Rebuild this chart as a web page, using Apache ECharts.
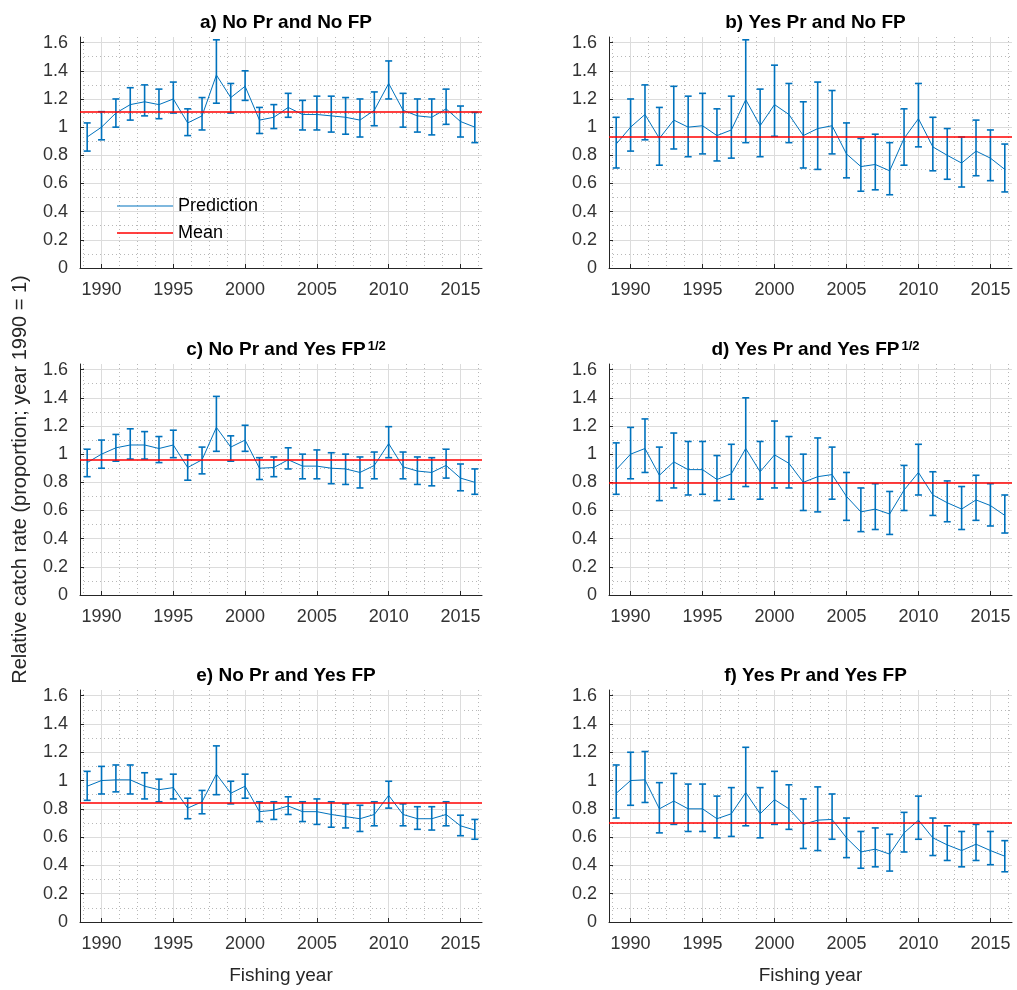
<!DOCTYPE html>
<html>
<head>
<meta charset="utf-8">
<script src="https://cdn.jsdelivr.net/npm/echarts@6/dist/echarts.min.js"></script>
<style>
html,body{margin:0;padding:0;background:#fff;}
#chart{width:1017px;height:990px;}
</style>
</head>
<body>
<div id="chart"></div>
<script>
const years = [1989,1990,1991,1992,1993,1994,1995,1996,1997,1998,1999,2000,2001,2002,2003,2004,2005,2006,2007,2008,2009,2010,2011,2012,2013,2014,2015,2016];

const titles = [
  'a) No Pr and No FP',
  'b) Yes Pr and No FP',
  'c) No Pr and Yes FP',
  'd) Yes Pr and Yes FP',
  'e) No Pr and Yes FP',
  'f) Yes Pr and Yes FP'
];
const titleSup = ['', '', '1/2', '1/2', '', ''];

const predA = [0.93,1.00,1.10,1.16,1.18,1.16,1.20,1.03,1.08,1.37,1.21,1.29,1.05,1.07,1.14,1.09,1.09,1.08,1.07,1.05,1.12,1.31,1.12,1.08,1.07,1.13,1.04,1.00];
const lowA  = [0.83,0.91,1.00,1.05,1.08,1.06,1.10,0.94,0.98,1.17,1.10,1.19,0.955,0.99,1.07,0.98,0.98,0.965,0.95,0.93,1.01,1.20,1.00,0.965,0.945,1.02,0.93,0.89];
const highA = [1.03,1.11,1.20,1.28,1.30,1.27,1.32,1.13,1.21,1.62,1.31,1.40,1.14,1.16,1.24,1.19,1.22,1.22,1.21,1.20,1.25,1.47,1.24,1.20,1.20,1.27,1.15,1.105];
const meanA = 1.11;

const predB = [0.88,1.00,1.09,0.92,1.05,1.00,1.01,0.94,0.98,1.195,1.01,1.16,1.09,0.94,0.99,1.01,0.81,0.72,0.735,0.69,0.92,1.06,0.86,0.80,0.745,0.83,0.78,0.70];
const lowB  = [0.71,0.83,0.91,0.73,0.845,0.79,0.81,0.76,0.78,0.89,0.79,0.935,0.89,0.71,0.70,0.81,0.64,0.545,0.555,0.52,0.73,0.86,0.69,0.63,0.575,0.655,0.62,0.54];
const highB = [1.07,1.20,1.30,1.14,1.29,1.22,1.24,1.13,1.22,1.62,1.27,1.44,1.31,1.18,1.32,1.26,1.03,0.92,0.95,0.89,1.13,1.31,1.07,0.99,0.93,1.05,0.98,0.88];
const meanB = 0.925;

const predC = [0.94,1.00,1.045,1.065,1.065,1.04,1.065,0.905,0.96,1.19,1.05,1.10,0.90,0.905,0.96,0.915,0.915,0.90,0.895,0.87,0.92,1.075,0.91,0.88,0.87,0.92,0.83,0.80];
const lowC  = [0.84,0.90,0.95,0.965,0.965,0.94,0.975,0.815,0.86,1.02,0.95,1.02,0.82,0.84,0.895,0.825,0.825,0.79,0.785,0.76,0.825,0.975,0.825,0.785,0.775,0.83,0.74,0.715];
const highC = [1.035,1.10,1.14,1.18,1.16,1.125,1.17,0.995,1.05,1.41,1.13,1.205,0.975,0.98,1.045,1.00,1.03,1.01,1.00,0.98,1.015,1.195,1.015,0.98,0.975,1.035,0.93,0.895];
const meanC = 0.96;

const predD = [0.89,1.00,1.04,0.85,0.945,0.89,0.89,0.82,0.86,1.04,0.875,0.995,0.935,0.80,0.84,0.855,0.70,0.59,0.61,0.575,0.745,0.87,0.71,0.655,0.61,0.675,0.635,0.565];
const lowD  = [0.715,0.825,0.87,0.67,0.76,0.71,0.715,0.67,0.68,0.77,0.68,0.76,0.76,0.60,0.59,0.68,0.53,0.45,0.465,0.43,0.60,0.71,0.565,0.52,0.465,0.53,0.49,0.44];
const highD = [1.08,1.19,1.25,1.05,1.15,1.09,1.09,0.99,1.07,1.40,1.09,1.235,1.125,1.00,1.115,1.05,0.87,0.76,0.79,0.735,0.92,1.07,0.875,0.81,0.77,0.85,0.79,0.71];
const meanD = 0.80;

const predE = [0.96,1.00,1.005,1.005,0.96,0.935,0.95,0.805,0.85,1.045,0.91,0.96,0.78,0.79,0.82,0.78,0.78,0.76,0.745,0.73,0.76,0.895,0.76,0.73,0.73,0.76,0.68,0.65];
const lowE  = [0.86,0.905,0.92,0.905,0.87,0.85,0.87,0.73,0.765,0.90,0.835,0.875,0.71,0.725,0.76,0.71,0.69,0.67,0.665,0.64,0.68,0.805,0.68,0.655,0.65,0.68,0.61,0.585];
const highE = [1.065,1.10,1.11,1.11,1.055,1.01,1.045,0.875,0.93,1.245,0.995,1.045,0.85,0.85,0.885,0.85,0.87,0.85,0.835,0.825,0.85,0.995,0.835,0.815,0.815,0.85,0.755,0.725];
const meanE = 0.845;

const predF = [0.91,1.00,1.005,0.80,0.855,0.80,0.80,0.73,0.765,0.915,0.765,0.865,0.80,0.69,0.72,0.725,0.595,0.495,0.515,0.48,0.63,0.72,0.595,0.545,0.505,0.55,0.505,0.465];
const lowF  = [0.735,0.825,0.845,0.63,0.69,0.64,0.64,0.595,0.605,0.68,0.595,0.69,0.655,0.52,0.505,0.585,0.455,0.38,0.39,0.36,0.495,0.585,0.47,0.435,0.39,0.435,0.405,0.355];
const highF = [1.11,1.20,1.205,0.985,1.05,0.975,0.975,0.89,0.95,1.235,0.95,1.065,0.97,0.87,0.955,0.905,0.735,0.64,0.665,0.62,0.775,0.89,0.735,0.68,0.64,0.69,0.64,0.575];
const meanF = 0.70;

const yTickMax = 1.64;
const xMin = 1988.5, xMax = 2016.5;

const preds = [predA, predB, predC, predD, predE, predF];
const lows  = [lowA, lowB, lowC, lowD, lowE, lowF];
const highs = [highA, highB, highC, highD, highE, highF];
const means = [meanA, meanB, meanC, meanD, meanE, meanF];

const BLUE = '#0072BD';
const RED = '#FF0000';
const AXIS = '#262626';
const FONT = 'Liberation Sans, Arial, Helvetica, sans-serif';

const lefts = [80, 609];
const widths = [402, 403];
const tops = [37, 364, 690];
const heights = [231, 231, 232];

const grids = [], xAxes = [], yAxes = [], series = [], titleComps = [];

for (let i = 0; i < 6; i++) {
  const col = i % 2, row = Math.floor(i / 2);
  grids.push({left: lefts[col], top: tops[row], width: widths[col], height: heights[row], containLabel: false});

  const cx = lefts[col] + widths[col] / 2;
  const titleText = titleSup[i] ? (titles[i] + '{sup|' + titleSup[i] + '}') : titles[i];
  titleComps.push({
    text: titleText,
    left: cx, top: tops[row] - 29, textAlign: 'center',
    textStyle: {
      fontFamily: FONT, fontSize: 19, fontWeight: 'bold', color: '#000', lineHeight: 20,
      rich: {sup: {fontFamily: FONT, fontSize: 13, fontWeight: 'bold', color: '#000', verticalAlign: 'top', lineHeight: 13, padding: [0, 0, 10, 2]}}
    }
  });

  // minor x axis (dotted grid)
  xAxes.push({
    type: 'value', gridIndex: i, min: xMin, max: xMax, minInterval: 1.25, maxInterval: 1.25,
    position: 'bottom',
    axisLine: {show: false}, axisTick: {show: false}, axisLabel: {show: false},
    splitLine: {show: true, showMinLine: false, showMaxLine: false, lineStyle: {color: '#b8b8b8', width: 1, type: [1, 3]}}
  });
  const xMajorIdx = xAxes.length;
  xAxes.push({
    type: 'value', gridIndex: i, min: xMin, max: xMax, minInterval: 5, maxInterval: 5,
    position: 'bottom',
    name: row === 2 ? 'Fishing year' : '',
    nameLocation: 'middle', nameGap: 44,
    nameTextStyle: {fontFamily: FONT, fontSize: 19, color: AXIS},
    axisLine: {show: true, onZero: false, lineStyle: {color: AXIS, width: 1}},
    axisTick: {show: true, inside: true, length: 4, lineStyle: {color: AXIS}},
    axisLabel: {show: true, margin: 13, fontFamily: FONT, fontSize: 18, color: '#333', showMinLabel: false, showMaxLabel: false, formatter: v => String(v)},
    splitLine: {show: true, showMinLine: false, showMaxLine: false, lineStyle: {color: '#dcdcdc', width: 1}}
  });

  yAxes.push({
    type: 'value', gridIndex: i, min: 0, max: yTickMax, minInterval: 0.1, maxInterval: 0.1,
    position: 'left',
    axisLine: {show: false}, axisTick: {show: false}, axisLabel: {show: false},
    splitLine: {show: true, showMinLine: false, showMaxLine: false, lineStyle: {color: '#b8b8b8', width: 1, type: [1, 3]}}
  });
  const yMajorIdx = yAxes.length;
  yAxes.push({
    type: 'value', gridIndex: i, min: 0, max: yTickMax, interval: 0.2,
    position: 'left',
    name: i === 2 ? 'Relative catch rate (proportion; year 1990 = 1)' : '',
    nameLocation: 'middle', nameGap: 50,
    nameTextStyle: {fontFamily: FONT, fontSize: 20, color: AXIS},
    axisLine: {show: true, onZero: false, lineStyle: {color: AXIS, width: 1}},
    axisTick: {show: true, inside: true, length: 4, lineStyle: {color: AXIS}},
    axisLabel: {show: true, margin: 12, fontFamily: FONT, fontSize: 18, color: '#333', showMaxLabel: false},
    splitLine: {show: true, showMinLine: false, showMaxLine: false, lineStyle: {color: '#dcdcdc', width: 1}}
  });

  const pred = preds[i], low = lows[i], high = highs[i];
  series.push({
    name: 'Prediction', type: 'line', xAxisIndex: xMajorIdx, yAxisIndex: yMajorIdx,
    data: years.map((y, k) => [y, pred[k]]),
    showSymbol: false, symbol: 'none', color: BLUE,
    lineStyle: {color: BLUE, width: 1}, z: 3
  });
  series.push({
    name: 'Prediction', type: 'custom', xAxisIndex: xMajorIdx, yAxisIndex: yMajorIdx,
    data: years.map((y, k) => [y, low[k], high[k]]),
    encode: {x: 0, y: [1, 2]},
    z: 4,
    renderItem: function (params, api) {
      const x = api.value(0);
      const lo = api.coord([x, api.value(1)]);
      const hi = api.coord([x, api.value(2)]);
      const hw = 3.5;
      const st = {stroke: BLUE, lineWidth: 1.6, fill: null};
      return {
        type: 'group',
        children: [
          {type: 'line', shape: {x1: lo[0], y1: lo[1], x2: hi[0], y2: hi[1]}, style: st},
          {type: 'line', shape: {x1: lo[0] - hw, y1: lo[1], x2: lo[0] + hw, y2: lo[1]}, style: st},
          {type: 'line', shape: {x1: hi[0] - hw, y1: hi[1], x2: hi[0] + hw, y2: hi[1]}, style: st}
        ]
      };
    }
  });
  series.push({
    name: 'Mean', type: 'line', xAxisIndex: xMajorIdx, yAxisIndex: yMajorIdx,
    data: [], color: RED, lineStyle: {color: RED, width: 1.5}, showSymbol: false, symbol: 'none',
    markLine: {
      silent: true, symbol: 'none', label: {show: false}, animation: false,
      lineStyle: {color: RED, width: 1.5, type: 'solid'},
      data: [{yAxis: means[i]}]
    },
    z: 2
  });
}

const chart = echarts.init(document.getElementById('chart'), null, {renderer: 'canvas'});
chart.setOption({
  animation: false,
  backgroundColor: '#fff',
  title: titleComps,
  grid: grids,
  xAxis: xAxes,
  yAxis: yAxes,
  legend: {
    data: [
      {name: 'Prediction', icon: 'path://M0,0 L56,0 L56,1.2 L0,1.2 Z', itemStyle: {color: BLUE}},
      {name: 'Mean', icon: 'path://M0,0 L56,0 L56,1.6 L0,1.6 Z', itemStyle: {color: RED}}
    ],
    orient: 'vertical', left: 112, top: 191,
    itemWidth: 56, itemHeight: 2, itemGap: 7,
    selectedMode: false,
    textStyle: {fontFamily: FONT, fontSize: 18, color: '#000', lineHeight: 20}
  },
  series: series
});
</script>
</body>
</html>
